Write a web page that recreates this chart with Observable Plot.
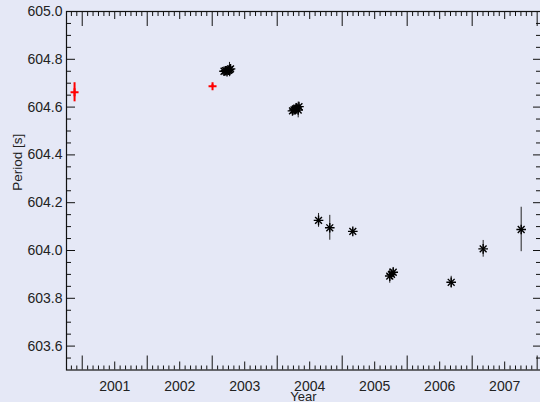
<!DOCTYPE html>
<html><head><meta charset="utf-8">
<script src="https://cdn.jsdelivr.net/npm/d3@7"></script>
<script src="https://cdn.jsdelivr.net/npm/@observablehq/plot@0.6"></script>
<style>
html,body{margin:0;padding:0;background:#e5e8f6;}
#chart{width:540px;height:402px;overflow:hidden;}
svg{display:block;}
</style></head><body><div id="chart"></div>
<script>
// Black (asterisk) measurements
const blackYears   = [2003.182, 2003.205, 2003.228, 2003.251, 2003.266, 2003.282,
                      2004.235, 2004.258, 2004.280, 2004.300, 2004.323, 2004.335,
                      2004.636, 2004.809, 2005.163, 2005.732, 2005.758, 2005.785,
                      2006.677, 2007.169, 2007.754];
const blackPeriods = [604.750, 604.752, 604.748, 604.754, 604.757, 604.760,
                      604.584, 604.588, 604.592, 604.596, 604.588, 604.602,
                      604.126, 604.095, 604.080, 603.893, 603.900, 603.909,
                      603.867, 604.007, 604.088];
const blackErrors  = [0.010, 0.008, 0.010, 0.008, 0.030, 0.012,
                      0.010, 0.010, 0.010, 0.010, 0.033, 0.010,
                      0.029, 0.052, 0.010, 0.030, 0.015, 0.020,
                      0.025, 0.035, 0.093];
// Red (plus) measurements
const redYears   = [2000.882, 2003.005];
const redPeriods = [604.662, 604.6875];
const redErrors  = [0.040, 0.006];
// Axis labels
const yearLabels  = [2001, 2002, 2003, 2004, 2005, 2006, 2007];
const periodTicks = [603.6, 603.8, 604.0, 604.2, 604.4, 604.6, 604.8, 605.0];

const black = blackYears.map((x, i) => ({x, p: blackPeriods[i], e: blackErrors[i]}));
const red = redYears.map((x, i) => ({x, p: redPeriods[i], e: redErrors[i]}));

const W = 540, H = 402, mL = 66, mR = -2, mT = 11, mB = 32.5;
const innerW = W - mL - mR, innerH = H - mT - mB;
const xDomain = [2000.758, 2008.082];
const yDomain = [603.5, 605.0];
const inX = v => v > xDomain[0] && v < xDomain[1];

const yearTicks = d3.range(2000, 2010).filter(inX);
const halfTicks = d3.range(2000, 2010).map(v => v + 0.5).filter(inX);
const monthTicks = d3.range(2000 * 12, 2010 * 12).filter(m => m % 6 !== 0).map(m => m / 12).filter(inX);
const yMinor = d3.range(1, 30).filter(k => (k - 2) % 4 !== 0).map(k => 603.5 + k * 0.05);

const ink = "#111";
const font = "Liberation Sans, Arial, Helvetica, sans-serif";

const chart = Plot.plot({
  width: W, height: H,
  marginLeft: mL, marginRight: mR, marginTop: mT, marginBottom: mB,
  style: {background: "#e5e8f6", fontFamily: font, color: "#222", overflow: "hidden"},
  x: {domain: xDomain, axis: null},
  y: {domain: yDomain, axis: null},
  marks: [
    // bottom ticks (inward)
    Plot.tickX(yearTicks, {x: d => d, insetTop: innerH - 14, stroke: ink}),
    Plot.tickX(halfTicks, {x: d => d, insetTop: innerH - 8, stroke: ink}),
    Plot.tickX(monthTicks, {x: d => d, insetTop: innerH - 4, stroke: ink}),
    // top ticks (inward)
    Plot.tickX(yearTicks, {x: d => d, insetBottom: innerH - 15, stroke: ink}),
    Plot.tickX(halfTicks, {x: d => d, insetBottom: innerH - 8, stroke: ink}),
    Plot.tickX(monthTicks, {x: d => d, insetBottom: innerH - 5, stroke: ink}),
    // left ticks
    Plot.tickY(periodTicks, {y: d => d, insetRight: innerW - 9, stroke: ink}),
    Plot.tickY(yMinor, {y: d => d, insetRight: innerW - 5, stroke: ink}),
    // right ticks
    Plot.tickY(periodTicks, {y: d => d, insetLeft: innerW - 9, stroke: ink}),
    Plot.tickY(yMinor, {y: d => d, insetLeft: innerW - 6, stroke: ink}),
    Plot.frame({stroke: ink, strokeWidth: 1.2}),
    // tick labels
    Plot.axisY({ticks: periodTicks, tickSize: 0, tickPadding: 4, tickFormat: d3.format(".1f"),
                fontSize: 14, label: null, anchor: "left"}),
    Plot.axisX({ticks: yearLabels.map(y => y + 0.5), tickSize: 0, tickPadding: 11,
                tickFormat: d => String(Math.floor(d)), fontSize: 14, label: null, anchor: "bottom"}),
    Plot.text(["Year"], {frameAnchor: "bottom", lineAnchor: "bottom", dy: 31, dx: -1, fontSize: 13, fill: "#222"}),
    Plot.text(["Period [s]"], {frameAnchor: "left", lineAnchor: "bottom", rotate: -90, dx: -45, fontSize: 13.5, fill: "#222"}),
    // error bars
    Plot.ruleX(black, {x: "x", y1: d => d.p - d.e, y2: d => d.p + d.e, stroke: "#222", strokeWidth: 1}),
    Plot.ruleX(red, {x: "x", y1: d => d.p - d.e, y2: d => d.p + d.e, stroke: "#ff0000", strokeWidth: 2}),
    // markers
    Plot.dot(black, {x: "x", y: "p", symbol: "plus", r: 3.2, stroke: "#000", strokeWidth: 1.4}),
    Plot.dot(black, {x: "x", y: "p", symbol: "times", r: 3.2, stroke: "#000", strokeWidth: 1.4}),
    Plot.dot(red, {x: "x", y: "p", symbol: "plus", r: 2.7, stroke: "#ff0000", strokeWidth: 2})
  ]
});
document.getElementById("chart").appendChild(chart);
</script>
</body></html>
